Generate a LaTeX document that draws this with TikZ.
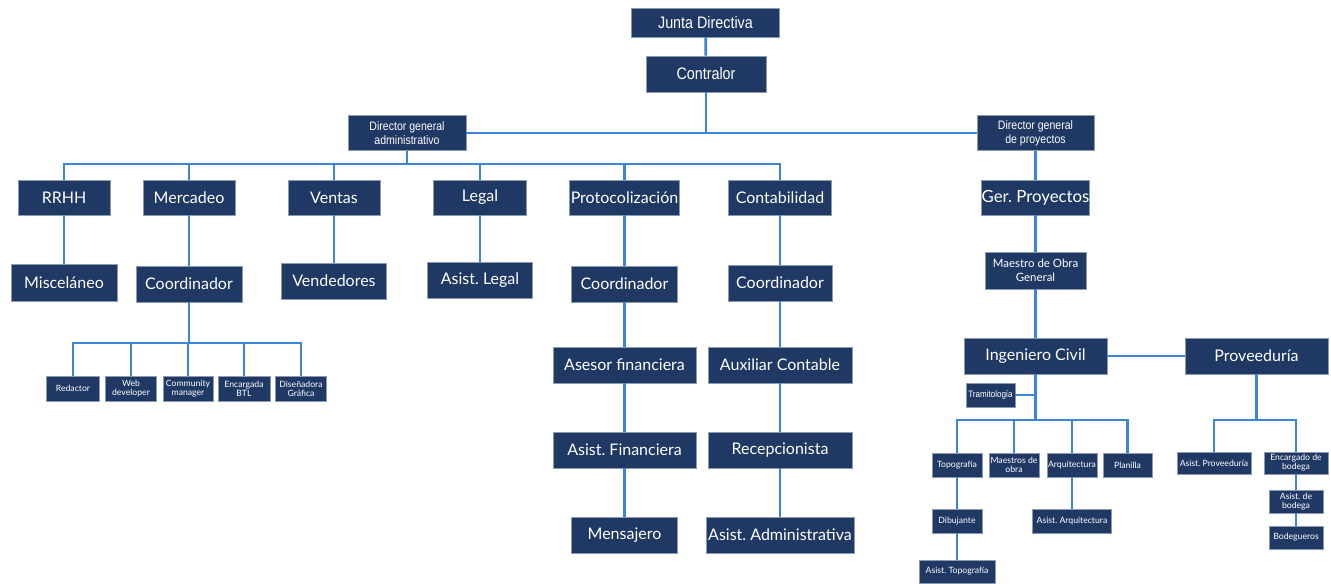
\documentclass[tikz,border=0pt]{standalone}
\usepackage{fontspec}
\setmainfont{Lato}
\newfontfamily\arialn[FakeStretch=0.86]{Liberation Sans}
\definecolor{navy}{HTML}{1F3864}
\definecolor{boxedge}{HTML}{8C9AB4}
\definecolor{link}{HTML}{3D85D8}
\tikzset{
  px/.style={x=0.75pt,y=-0.75pt},
  wh/.style 2 args={minimum width=#1*0.75pt, minimum height=#2*0.75pt},
  box/.style={fill=navy, draw=boxedge, line width=0.4pt, text=white,
              inner sep=0pt, align=center},
  bigbox/.style={box, font=\fontsize{12}{14}\selectfont},
  headbox/.style={box, font=\arialn\fontsize{12.5}{14}\selectfont},
  dirbox/.style={box, font=\arialn\fontsize{9.2}{10.6}\selectfont},
  midbox/.style={box, font=\fontsize{8.6}{10.2}\selectfont},
  smallbox/.style={box, font=\fontsize{6.5}{6.7}\selectfont},
  narrowsmall/.style={box, font=\arialn\fontsize{7}{8}\selectfont},
  conn/.style={draw=link, line width=2.1pt}
}
\begin{document}
\frenchspacing
\begin{tikzpicture}[px]
\useasboundingbox (0,0) rectangle (1331,584);

% --- top management ---
\node[headbox, wh={148}{29}] (jd)  at (705.5,22.5) {Junta Directiva};
\node[headbox, wh={120}{36}] (ctl) at (706,74) {Contralor};
\node[dirbox, wh={118}{35}] (dga) at (407,133) {Director general\\administrativo};
\node[dirbox, wh={117}{35}] (dgp) at (1035.5,133) {Director general\\de proyectos};

% --- administrative departments ---
\node[bigbox, wh={92}{35}]  (rrhh)  at (64,197.5)   {RRHH};
\node[bigbox, wh={92}{35}]  (merc)  at (189,197.5)  {Mercadeo};
\node[bigbox, wh={92}{35}]  (vent)  at (334,197.5)  {Ventas};
\node[bigbox, wh={93}{35}]  (legal) at (480,197.5)  {Legal};
\node[bigbox, wh={110}{35}] (proto) at (624.5,197.5) {Protocolización};
\node[bigbox, wh={103}{35}] (conta) at (780,197.5)  {Contabilidad};

\node[bigbox, wh={106}{37}] (misc)  at (64,282.5)   {Misceláneo};
\node[bigbox, wh={106}{36}] (coorM) at (189,284)    {Coordinador};
\node[bigbox, wh={105}{36}] (vend)  at (334,281)    {Vendedores};
\node[bigbox, wh={105}{36}] (asl)   at (480,280)    {Asist. Legal};
\node[bigbox, wh={106}{36}] (coorP) at (624.5,284)  {Coordinador};
\node[bigbox, wh={104}{36}] (coorC) at (780,283)    {Coordinador};

% marketing team
\node[smallbox, wh={53}{25}] (red) at (73,388.5)  {Redactor};
\node[smallbox, wh={51}{25}] (web) at (131,388.5) {Web\\developer};
\node[smallbox, wh={50}{25}] (com) at (188,388.5) {Community\\manager};
\node[smallbox, wh={52}{25}] (btl) at (244,388.5) {Encargada\\BTL};
\node[smallbox, wh={51}{25}] (dis) at (301,388.5) {Diseñadora\\Gráfica};

% finance and accounting columns
\node[bigbox, wh={143}{36}] (af)  at (624.5,365) {Asesor financiera};
\node[bigbox, wh={143}{36}] (asf) at (624.5,450) {Asist. Financiera};
\node[bigbox, wh={106}{36}] (men) at (624.5,535) {Mensajero};
\node[bigbox, wh={144}{36}] (ac)  at (780,365)   {Auxiliar Contable};
\node[bigbox, wh={144}{36}] (rec) at (780,450)   {Recepcionista};
\node[bigbox, wh={148}{36}] (aad) at (780,535)   {Asist. Administrativa};

% --- projects branch ---
\node[bigbox, wh={103}{35}, font=\fontsize{12.6}{14}\selectfont] (gp) at (1035.5,197.5) {Ger. Proyectos};
\node[midbox, wh={101}{37}] (mog)  at (1035.5,270.5) {Maestro de Obra\\General};
\node[bigbox, wh={143}{36}] (ic)   at (1035.5,356)   {Ingeniero Civil};
\node[bigbox, wh={143}{36}] (prov) at (1256.5,356)   {Proveeduría};
\node[narrowsmall, wh={49}{24}] (tram) at (990.5,395) {Tramitología};

\node[smallbox, wh={50}{24}] (topo) at (957,465)    {Topografía};
\node[smallbox, wh={50}{24}] (mdo)  at (1014,465)   {Maestros de\\obra};
\node[smallbox, wh={50}{24}] (arq)  at (1072,465)   {Arquitectura};
\node[smallbox, wh={49}{24}] (pla)  at (1127.5,465) {Planilla};
\node[smallbox, wh={50}{24}] (dib)  at (957,521)    {Dibujante};
\node[smallbox, wh={76}{23}] (ast)  at (957,571.5)  {Asist. Topografía};
\node[smallbox, wh={79}{24}] (asa)  at (1072,521)   {Asist. Arquitectura};

\node[smallbox, wh={74}{22}] (asp) at (1214,463)   {Asist. Proveeduría};
\node[smallbox, wh={64}{22}] (enc) at (1296,463)   {Encargado de\\bodega};
\node[smallbox, wh={54}{23}] (asb) at (1296,501.5) {Asist. de\\bodega};
\node[smallbox, wh={54}{23}] (bod) at (1296,537.5) {Bodegueros};

% bus junctions
\coordinate (busA)  at (407,164);
\coordinate (busM)  at (189,343);
\coordinate (busI)  at (1035.5,420);
\coordinate (tramJ) at (1035.5,395);
\coordinate (busP)  at (1256.5,420);

% --- connectors ---
\begin{scope}[conn]
\draw (jd) -- (ctl);
\draw (dga.east) -- (dgp.west);
\draw (ctl.south) -- (ctl.south |- dga.east);

\draw (dga.south) -- (busA);
\draw (rrhh.north) |- (busA) -| (conta.north);
\draw (merc.north)  -- (merc.north  |- busA);
\draw (vent.north)  -- (vent.north  |- busA);
\draw (legal.north) -- (legal.north |- busA);
\draw (proto.north) -- (proto.north |- busA);

\draw (rrhh) -- (misc);
\draw (merc) -- (coorM);
\draw (vent) -- (vend);
\draw (legal) -- (asl);
\draw (proto) -- (coorP);
\draw (conta) -- (coorC);

\draw (coorM.south) -- (busM);
\draw (red.north) |- (busM) -| (dis.north);
\draw (web.north) -- (web.north |- busM);
\draw (com.north) -- (com.north |- busM);
\draw (btl.north) -- (btl.north |- busM);

\draw (coorP) -- (af);
\draw (af) -- (asf);
\draw (asf) -- (men);
\draw (coorC) -- (ac);
\draw (ac) -- (rec);
\draw (rec) -- (aad);

\draw (dgp) -- (gp);
\draw (gp) -- (mog);
\draw (mog) -- (ic);
\draw (ic) -- (prov);

\draw (ic.south) -- (busI);
\draw (tram.east) -- (tramJ);
\draw (topo.north) |- (busI) -| (pla.north);
\draw (mdo.north) -- (mdo.north |- busI);
\draw (arq.north) -- (arq.north |- busI);
\draw (topo) -- (dib);
\draw (dib) -- (ast);
\draw (arq) -- (asa);

\draw (prov.south) -- (busP);
\draw (asp.north) |- (busP) -| (enc.north);
\draw (enc) -- (asb);
\draw (asb) -- (bod);
\end{scope}
\end{tikzpicture}
\end{document}
